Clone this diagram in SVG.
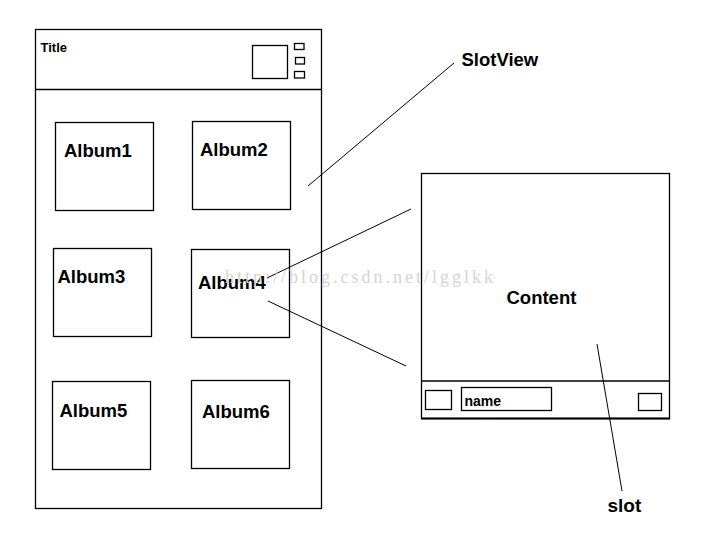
<svg xmlns="http://www.w3.org/2000/svg" width="702" height="534" viewBox="0 0 702 534">
<style>
.b{fill:none;stroke:#000;stroke-width:1.3}
.c{fill:none;stroke:#000;stroke-width:1}
.t{font-family:"Liberation Sans",Arial,sans-serif;font-weight:bold;fill:#000}
.w{font-family:"Liberation Serif","DejaVu Serif",serif;fill:#d4d4d4;font-size:18px}
</style>
<rect width="702" height="534" fill="#fff"/>
<g id="slotview-frame">
<rect class="b" x="35.5" y="29.5" width="286" height="479"/>
<line class="b" x1="35.5" y1="89.5" x2="321.5" y2="89.5"/>
<text class="t" x="40.5" y="51.5" font-size="13">Title</text>
<rect class="b" x="252.5" y="45.5" width="35" height="33"/>
<rect class="b" x="294.5" y="43.5" width="9.5" height="6"/>
<rect class="b" x="295.5" y="57.5" width="9" height="6.5"/>
<rect class="b" x="294.5" y="71.5" width="10" height="6.5"/>
</g>
<g id="album1"><rect class="b" x="55.5" y="122.5" width="98" height="88"/><text class="t" x="64" y="157" font-size="18.5">Album1</text></g>
<g id="album2"><rect class="b" x="192.5" y="121.5" width="98" height="88"/><text class="t" x="200" y="156" font-size="18.5">Album2</text></g>
<g id="album3"><rect class="b" x="53.5" y="248.5" width="98" height="88"/><text class="t" x="57.5" y="283" font-size="18.5">Album3</text></g>
<g id="album4"><rect class="b" x="191.5" y="249.5" width="98" height="88"/><text class="t" x="198" y="288.5" font-size="18.5">Album4</text></g>
<g id="album5"><rect class="b" x="52.5" y="381.5" width="98" height="88"/><text class="t" x="59.5" y="417" font-size="18.5">Album5</text></g>
<g id="album6"><rect class="b" x="191.5" y="380.5" width="98" height="88"/><text class="t" x="202" y="417.5" font-size="18.5">Album6</text></g>
<g id="slot">
<rect class="b" x="421.5" y="173.5" width="248" height="245"/>
<line class="b" x1="421.5" y1="381" x2="669.5" y2="381"/>
<line x1="421" y1="418.5" x2="670" y2="418.5" stroke="#000" stroke-width="2.2"/>
<text class="t" x="506.5" y="304" font-size="18.5">Content</text>
<rect class="b" x="425.5" y="390.5" width="26" height="19"/>
<rect class="b" x="461.5" y="387.5" width="90" height="23"/>
<text class="t" x="464.5" y="406" font-size="14">name</text>
<rect class="b" x="638.5" y="393.5" width="23" height="17"/>
</g>
<g id="labels">
<text class="t" x="461.5" y="66" font-size="18.5">SlotView</text>
<text class="t" x="607.5" y="511.5" font-size="19">slot</text>
</g>
<g id="connectors">
<line class="c" x1="454" y1="63" x2="308" y2="186"/>
<line class="c" x1="267" y1="278" x2="411" y2="209"/>
<line class="c" x1="268" y1="301" x2="406" y2="366"/>
<line class="c" x1="597" y1="344" x2="622" y2="491"/>
</g>
<text class="w" x="225" y="283" textLength="268" lengthAdjust="spacing">http://blog.csdn.net/lgglkk</text>
</svg>
